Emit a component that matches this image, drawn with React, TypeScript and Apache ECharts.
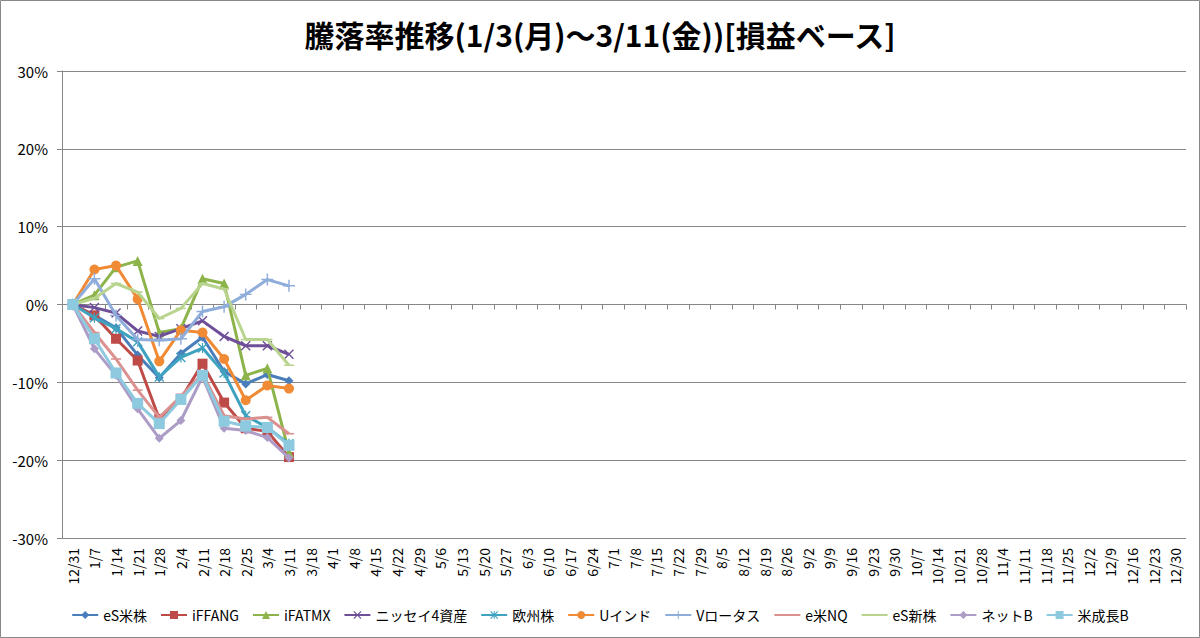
import React, { useEffect, useRef } from "react";
import * as echarts from "echarts";

const categories = ['12/31','1/7','1/14','1/21','1/28','2/4','2/11','2/18','2/25','3/4','3/11','3/18','4/1','4/8','4/15','4/22','4/29','5/6','5/13','5/20','5/27','6/3','6/10','6/17','6/24','7/1','7/8','7/15','7/22','7/29','8/5','8/12','8/19','8/26','9/2','9/9','9/16','9/23','9/30','10/7','10/14','10/21','10/28','11/4','11/11','11/18','11/25','12/2','12/9','12/16','12/23','12/30'];

const seriesNames = ['eS米株','iFFANG','iFATMX','ニッセイ4資産','欧州株','Uインド','Vロータス','e米NQ','eS新株','ネットB','米成長B'];

const esBeikabu = [0, -1.4, -3.0, -6.5, -9.4, -6.3, -4.2, -8.6, -10.2, -9.0, -9.8];
const iFFANG = [0, -1.4, -4.4, -7.2, -14.7, -12.1, -7.6, -12.6, -15.9, -16.3, -19.6];
const iFATMX = [0, 1.2, 4.8, 5.6, -3.6, -3.1, 3.3, 2.7, -9.1, -8.2, -19.0];
const nissay4 = [0, -0.4, -1.1, -3.4, -4.1, -3.1, -2.1, -4.1, -5.3, -5.3, -6.4];
const oushu = [0, -1.7, -3.1, -4.8, -9.3, -6.8, -5.6, -8.8, -14.3, -15.8, -17.9];
const uIndo = [0, 4.5, 5.0, 0.7, -7.3, -3.3, -3.6, -7.0, -12.3, -10.4, -10.8];
const vLotus = [0, 3.3, -1.4, -4.5, -4.6, -4.4, -0.9, -0.3, 1.3, 3.2, 2.4];
const eBeiNQ = [0, -3.6, -7.0, -11.0, -14.5, -11.8, -8.9, -14.3, -14.7, -14.5, -16.6];
const esShinkabu = [0, 0.8, 2.7, 1.6, -1.8, -0.5, 2.7, 2.0, -4.5, -4.5, -7.8];
const netB = [0, -5.7, -9.1, -13.4, -17.2, -14.9, -9.3, -15.9, -16.2, -17.1, -19.7];
const beiSeichoB = [0, -4.4, -8.8, -12.7, -15.3, -12.2, -9.1, -15.0, -15.6, -15.8, -18.1];

const yTicks = [-30, -20, -10, 0, 10, 20, 30];

const X_PATH = "path://M0,1 L1,0 L5,4 L9,0 L10,1 L6,5 L10,9 L9,10 L5,6 L1,10 L0,9 L4,5 Z";
const STAR_PATH = "path://M0,1 L1,0 L5,4 L9,0 L10,1 L6,5 L10,9 L9,10 L5,6 L1,10 L0,9 L4,5 Z M4.4,0 L5.6,0 L5.6,10 L4.4,10 Z";
const PLUS_PATH = "path://M4.4,0 L5.6,0 L5.6,4.4 L10,4.4 L10,5.6 L5.6,5.6 L5.6,10 L4.4,10 L4.4,5.6 L0,5.6 L0,4.4 L4.4,4.4 Z";
const DASH_PATH = "path://M5,0 L5,0 M5,10 L5,10 M0,4.2 L10,4.2 L10,5.8 L0,5.8 Z";

const FONT = "'Noto Sans CJK JP', 'Noto Sans', sans-serif";

export default function App() {
  const ref = useRef<HTMLDivElement>(null);

  useEffect(() => {
    if (!ref.current) return;
    const chart = echarts.init(ref.current, undefined, { renderer: "svg" });

    const dataList = [esBeikabu, iFFANG, iFATMX, nissay4, oushu, uIndo, vLotus, eBeiNQ, esShinkabu, netB, beiSeichoB];
    const colors = ['#4A7EBB', '#BE4B48', '#8DB44A', '#6F4F98', '#3FA3C0', '#F08A35', '#8FADDA', '#DB918F', '#B9D48F', '#AD9CC6', '#8DCAE0'];
    const symbols = ['diamond', 'rect', 'triangle', X_PATH, STAR_PATH, 'circle', PLUS_PATH, DASH_PATH, DASH_PATH, 'diamond', 'rect'];
    const sizes = [9, 10, 10, 10, 10, 10, 12, 10, 10, 9, 11];

    const series = seriesNames.map((name, i) => ({
      name,
      type: "line",
      data: dataList[i],
      symbol: symbols[i],
      symbolSize: sizes[i],
      showAllSymbol: true,
      itemStyle: { color: colors[i] },
      lineStyle: { color: colors[i], width: 3 },
      emphasis: { disabled: true },
      z: 2 + i,
    }));

    chart.setOption({
      animation: false,
      backgroundColor: "#fff",
      textStyle: { fontFamily: FONT },
      title: {
        text: "騰落率推移(1/3(月)～3/11(金))[損益ベース]",
        left: "center",
        top: 14,
        textStyle: { fontSize: 30, fontWeight: "bold", color: "#000", fontFamily: FONT },
      },
      graphic: [
        {
          type: "rect",
          shape: { x: 0.5, y: 0.5, width: 1199, height: 637 },
          style: { fill: "none", stroke: "#888", lineWidth: 1 },
          silent: true,
        },
      ],
      legend: {
        data: seriesNames,
        top: 603,
        left: "center",
        itemWidth: 26,
        itemHeight: 10,
        itemGap: 13,
        textStyle: { fontSize: 14, color: "#000", fontFamily: FONT },
      },
      grid: { left: 62, right: 14, top: 71, bottom: 100, containLabel: false },
      xAxis: [
        {
          type: "category",
          data: categories,
          position: "bottom",
          boundaryGap: true,
          axisLine: { show: false, onZero: false },
          axisTick: { show: false },
          axisLabel: { rotate: 90, margin: 10, fontSize: 14, color: "#000", interval: 0, fontFamily: FONT },
          splitLine: { show: false },
        },
        {
          type: "category",
          data: categories,
          position: "bottom",
          boundaryGap: true,
          axisLine: { show: true, onZero: true, onZeroAxisIndex: 0, lineStyle: { color: "#868686", width: 1 } },
          axisTick: { show: true, length: 5, interval: 0, lineStyle: { color: "#868686" } },
          axisLabel: { show: false },
          splitLine: { show: false },
        },
      ],
      yAxis: {
        type: "value",
        min: yTicks[0],
        max: yTicks[yTicks.length - 1],
        interval: 10,
        axisLine: { show: true, lineStyle: { color: "#868686", width: 1 } },
        axisTick: { show: true, length: 5, lineStyle: { color: "#868686" } },
        axisLabel: { formatter: "{value}%", fontSize: 15, color: "#000", margin: 14, fontFamily: FONT },
        splitLine: { show: true, lineStyle: { color: "#868686", width: 1 } },
      },
      series,
    });

    return () => chart.dispose();
  }, []);

  return (
    <div
      ref={ref}
      style={{ position: "fixed", left: 0, top: 0, width: 1200, height: 638, background: "#fff" }}
    />
  );
}
